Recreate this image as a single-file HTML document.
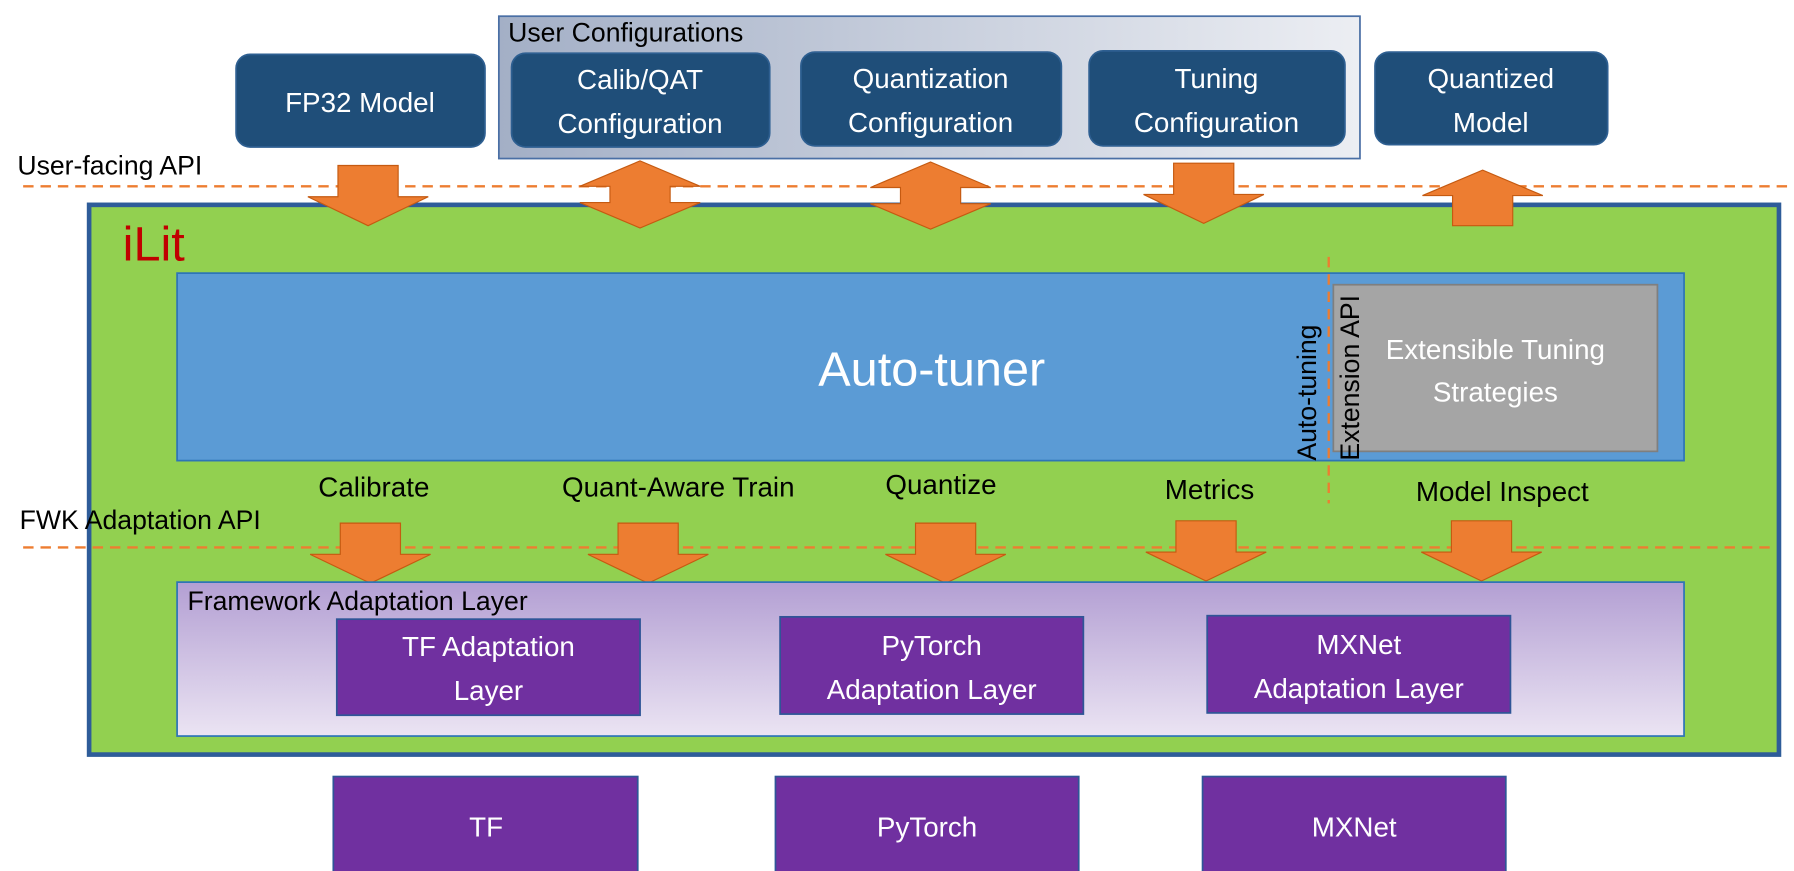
<!DOCTYPE html>
<html><head><meta charset="utf-8"><style>
html,body{margin:0;padding:0;background:#fff;overflow:hidden}
svg{display:block}
text{font-family:"Liberation Sans","DejaVu Sans",sans-serif}
</style></head><body>
<svg width="1794" height="871" viewBox="0 0 1550 752.6" preserveAspectRatio="none" xmlns="http://www.w3.org/2000/svg">
<defs>
<linearGradient id="ug" x1="0" x2="1" y1="0" y2="0"><stop offset="0" stop-color="#a3afc6"/><stop offset="1" stop-color="#eceef3"/></linearGradient>
<linearGradient id="fg" x1="0" x2="0" y1="0" y2="1"><stop offset="0" stop-color="#b39fd3"/><stop offset="1" stop-color="#ebe4f3"/></linearGradient>
<g id="ad"><polygon points="-26,0 26,0 26,27 52,27 0,52 -52,27 -26,27" fill="#ed7d31" stroke="#c55a11" stroke-width="1"/></g>
<g id="au"><polygon points="-26,48 26,48 26,22 52,22 0,0 -52,22 -26,22" fill="#ed7d31" stroke="#c55a11" stroke-width="1"/></g>
<g id="dd"><polygon points="0,0 52,22 26,22 26,36 52,36 0,58 -52,36 -26,36 -26,22 -52,22" fill="#ed7d31" stroke="#c55a11" stroke-width="1"/></g>
</defs>
<rect x="431" y="14" width="744" height="123" fill="url(#ug)" stroke="#4a6fa5" stroke-width="1.5"/>
<text x="439" y="36" font-size="23" fill="#000">User Configurations</text>
<g fill="#1f4e79" stroke="#2e5f91" stroke-width="1.5">
<rect x="204" y="47" width="215" height="80" rx="12"/>
<rect x="442" y="46" width="223" height="81" rx="12"/>
<rect x="692" y="45" width="225" height="81" rx="12"/>
<rect x="941" y="44" width="221" height="82" rx="12"/>
<rect x="1188" y="45" width="201" height="80" rx="12"/>
</g>
<g fill="#fff" font-size="24" text-anchor="middle">
<text x="311" y="97">FP32 Model</text>
<text x="553" y="77">Calib/QAT</text><text x="553" y="115">Configuration</text>
<text x="804" y="76">Quantization</text><text x="804" y="114">Configuration</text>
<text x="1051" y="76">Tuning</text><text x="1051" y="114">Configuration</text>
<text x="1288" y="76">Quantized</text><text x="1288" y="114">Model</text>
</g>
<text x="15" y="151" font-size="23">User-facing API</text>
<line x1="20" y1="161" x2="1545" y2="161" stroke="#ed7d31" stroke-width="2" stroke-dasharray="9,6"/>
<rect x="77" y="177" width="1460" height="475" fill="#92d050" stroke="#2e5c99" stroke-width="4"/>
<text x="106" y="225" font-size="42" fill="#c00000">iLit</text>
<rect x="153" y="236" width="1302" height="162" fill="#5b9bd5" stroke="#2e75b6" stroke-width="1.5"/>
<text x="805" y="333" font-size="42" fill="#fff" text-anchor="middle">Auto-tuner</text>
<rect x="1152" y="246" width="280" height="144" fill="#a5a5a5" stroke="#7f7f7f" stroke-width="1.5"/>
<text x="1292" y="310" font-size="24" fill="#fff" text-anchor="middle">Extensible Tuning</text>
<text x="1292" y="347" font-size="24" fill="#fff" text-anchor="middle">Strategies</text>
<text transform="translate(1137,398) rotate(-90)" font-size="23">Auto-tuning</text>
<text transform="translate(1174,398) rotate(-90)" font-size="23">Extension API</text>
<line x1="1148" y1="222" x2="1148" y2="435" stroke="#ed7d31" stroke-width="2" stroke-dasharray="9,6"/>
<g font-size="24" text-anchor="middle">
<text x="323" y="429">Calibrate</text>
<text x="586" y="429">Quant-Aware Train</text>
<text x="813" y="427">Quantize</text>
<text x="1045" y="431">Metrics</text>
<text x="1298" y="433">Model Inspect</text>
</g>
<text x="17" y="457" font-size="23">FWK Adaptation API</text>
<line x1="20" y1="473" x2="1535" y2="473" stroke="#ed7d31" stroke-width="2" stroke-dasharray="9,6"/>
<use href="#ad" x="318" y="143"/>
<use href="#ad" x="1040" y="141"/>
<use href="#dd" x="553" y="139"/>
<use href="#dd" x="804" y="140"/>
<use href="#au" x="1281" y="147"/>
<use href="#ad" x="320" y="452"/>
<use href="#ad" x="560" y="452"/>
<use href="#ad" x="817" y="452"/>
<use href="#ad" x="1042" y="450"/>
<use href="#ad" x="1280" y="450"/>
<rect x="153" y="503" width="1302" height="133" fill="url(#fg)" stroke="#2e75b6" stroke-width="1.5"/>
<text x="162" y="527" font-size="23">Framework Adaptation Layer</text>
<g fill="#7030a0" stroke="#2f5597" stroke-width="1.5">
<rect x="291" y="535" width="262" height="83"/>
<rect x="674" y="533" width="262" height="84"/>
<rect x="1043" y="532" width="262" height="84"/>
<rect x="288" y="671" width="263" height="83"/>
<rect x="670" y="671" width="262" height="83"/>
<rect x="1039" y="671" width="262" height="83"/>
</g>
<g fill="#fff" font-size="24" text-anchor="middle">
<text x="422" y="567">TF Adaptation</text><text x="422" y="605">Layer</text>
<text x="805" y="566">PyTorch</text><text x="805" y="604">Adaptation Layer</text>
<text x="1174" y="565">MXNet</text><text x="1174" y="603">Adaptation Layer</text>
<text x="420" y="723">TF</text>
<text x="801" y="723">PyTorch</text>
<text x="1170" y="723">MXNet</text>
</g>
</svg>
</body></html>
